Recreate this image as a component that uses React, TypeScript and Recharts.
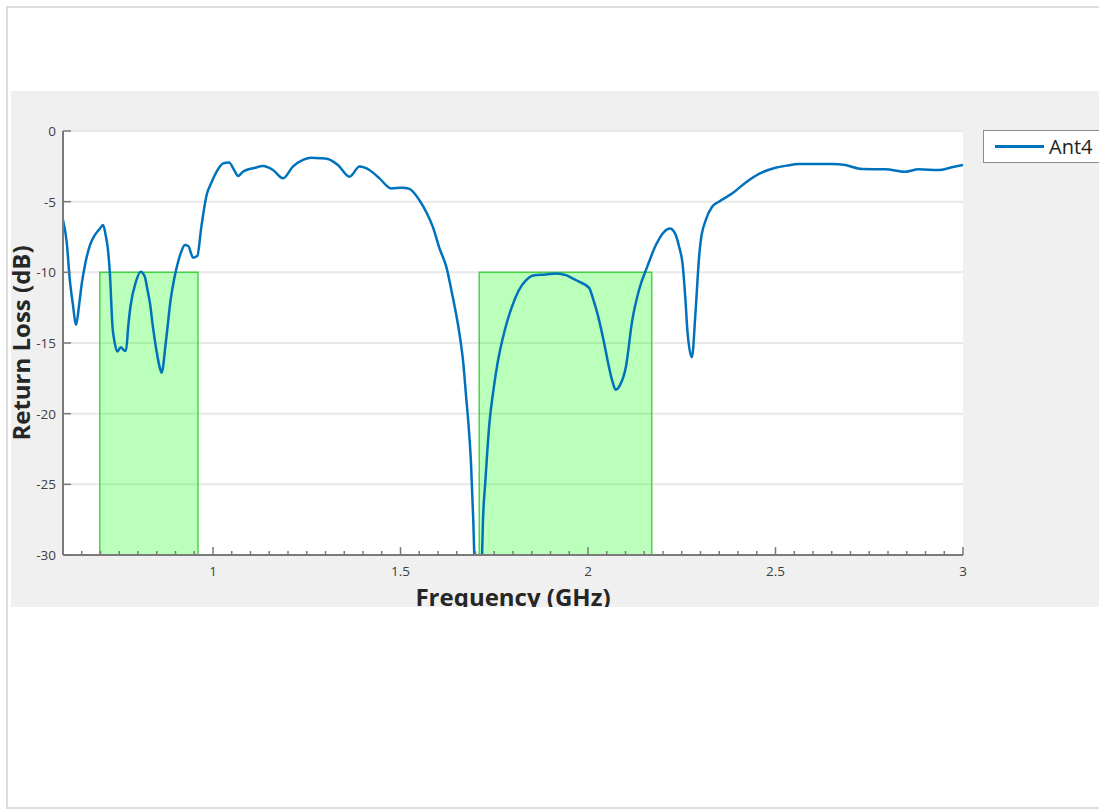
import React from 'react';
import {
  LineChart,
  Line,
  XAxis,
  YAxis,
  CartesianGrid,
  ReferenceArea,
} from 'recharts';

// frequency sweep (GHz) and measured return loss (dB)
const freq = [
  0.6, 0.61, 0.618, 0.626, 0.635, 0.643, 0.65, 0.66, 0.672, 0.685, 0.697, 0.707, 0.714, 0.719,
  0.725, 0.732, 0.738, 0.745, 0.754, 0.762, 0.768, 0.774, 0.78, 0.794, 0.807, 0.818, 0.825,
  0.832, 0.84, 0.849, 0.856, 0.863, 0.874, 0.887, 0.897, 0.907, 0.916, 0.925, 0.934, 0.947,
  0.958, 0.969, 0.983, 0.995, 1.005, 1.016, 1.027, 1.043, 1.055, 1.067, 1.08, 1.089, 1.11,
  1.133, 1.16, 1.187, 1.213, 1.24, 1.262, 1.285, 1.306, 1.333, 1.364, 1.391, 1.417, 1.444,
  1.475, 1.506, 1.524, 1.55, 1.57, 1.586, 1.604, 1.622, 1.639, 1.657, 1.667, 1.675, 1.682,
  1.688, 1.694, 1.699, 1.708, 1.716, 1.72, 1.726, 1.737, 1.748, 1.759, 1.777, 1.799, 1.815,
  1.835, 1.857, 1.888, 1.914, 1.941, 1.96, 1.976, 2.003, 2.015, 2.025, 2.043, 2.052, 2.065,
  2.074, 2.085, 2.101, 2.118, 2.136, 2.158, 2.181, 2.203, 2.218, 2.232, 2.244, 2.252, 2.26,
  2.265, 2.277, 2.287, 2.296, 2.3, 2.314, 2.331, 2.349, 2.385, 2.42, 2.456, 2.5, 2.53, 2.562,
  2.6, 2.651, 2.686, 2.731, 2.793, 2.846, 2.882, 2.935, 2.97, 3.0,
];
const ant4 = [
  -6.3, -7.9, -10.5, -12.2, -13.7, -12.3, -10.8, -9.3, -8.07, -7.36, -6.95, -6.65, -7.4, -8.2,
  -10.05, -13.85, -15.0, -15.6, -15.3, -15.5, -15.55, -13.8, -12.4, -10.7, -9.95, -10.3, -11.2,
  -12.2, -13.9, -15.5, -16.5, -17.1, -15.0, -11.95, -10.4, -9.25, -8.5, -8.07, -8.14, -8.96,
  -8.85, -6.77, -4.53, -3.7, -3.11, -2.6, -2.29, -2.22, -2.7, -3.18, -2.88, -2.76, -2.62,
  -2.48, -2.76, -3.35, -2.52, -2.05, -1.89, -1.92, -1.98, -2.4, -3.23, -2.52, -2.76, -3.35,
  -4.06, -4.01, -4.1, -4.88, -5.8, -6.77, -8.3, -9.6, -11.7, -14.3, -16.3, -18.8, -21.0,
  -23.5, -27.5, -32, -38, -31.5, -27.5, -24.9, -20.7, -18.3, -16.4, -14.2, -12.3, -11.3,
  -10.55, -10.2, -10.15, -10.08, -10.2, -10.45, -10.66, -11.1, -12.0, -12.9, -15.0, -16.2, -17.7,
  -18.3, -18.0, -16.7, -13.4, -11.25, -9.6, -8.07, -7.13, -6.9, -7.24, -8.3, -9.36, -12.0,
  -14.1, -16.0, -12.7, -9.0, -7.9, -6.3, -5.36, -5.0, -4.41, -3.66, -3.04, -2.6, -2.45, -2.34,
  -2.33, -2.34, -2.41, -2.69, -2.71, -2.88, -2.71, -2.76, -2.57, -2.41,
];

// target bands (GHz), shaded below -10 dB
const bandStart = [0.698, 1.71];
const bandEnd = [0.96, 2.17];
const bandLimit = -10;

const yTicks = [-30, -25, -20, -15, -10, -5, 0];
const xMajor = [1, 1.5, 2, 2.5, 3];
const xMinorStep = 0.05;

const data = freq.map((f, i) => ({ f, ant4: ant4[i] }));
const xTicks: number[] = [];
for (let i = 0; i <= 48; i++) xTicks.push(Math.round((0.6 + i * xMinorStep) * 100) / 100);

const axisColor = '#7a7a7a';
const textColor = '#404040';
const font = '"Open Sans", sans-serif';

const XTick = (props: any) => {
  const { x, y, payload } = props;
  const major = xMajor.includes(payload.value);
  return (
    <g>
      <line x1={x} x2={x} y1={y} y2={y - (major ? 8 : 4)} stroke={axisColor} strokeWidth={1.5} />
      {major && (
        <text x={x} y={y + 21} textAnchor="middle" fontSize={13.5} fill={textColor} fontFamily={font}>
          {payload.value}
        </text>
      )}
    </g>
  );
};

const YTick = (props: any) => {
  const { x, y, payload } = props;
  return (
    <g>
      <line x1={x} x2={x + 8} y1={y} y2={y} stroke={axisColor} strokeWidth={1.5} />
      <text x={x - 7} y={y + 5} textAnchor="end" fontSize={13.5} fill={textColor} fontFamily={font}>
        {payload.value}
      </text>
    </g>
  );
};

export default function App() {
  return (
    <div>
      <div
        style={{
          position: 'absolute',
          left: 6,
          top: 6,
          width: 1093,
          height: 803,
          boxSizing: 'border-box',
          border: '2px solid #dcdcdc',
          borderRight: 'none',
          background: '#fff',
        }}
      />
      <div
        style={{
          position: 'absolute',
          left: 11,
          top: 91,
          width: 1088,
          height: 516,
          background: '#f0f0f0',
          overflow: 'hidden',
        }}
      >
        <LineChart
          width={1088}
          height={516}
          data={data}
          margin={{ top: 40, right: 136, bottom: 22, left: 12 }}
        >
          <CartesianGrid
            horizontal
            vertical={false}
            fill="#ffffff"
            stroke="#e8e8e8"
            strokeWidth={2}
          />
          {bandStart.map((s, i) => (
            <ReferenceArea
              key={`band-${i}`}
              x1={s}
              x2={bandEnd[i]}
              y1={-30}
              y2={bandLimit}
              fill="#00ff00"
              fillOpacity={0.27}
              stroke="#33cc33"
              strokeOpacity={0.85}
              strokeWidth={1.5}
            />
          ))}
          <XAxis
            type="number"
            dataKey="f"
            domain={[0.6, 3]}
            ticks={xTicks}
            interval={0}
            tickSize={0}
            tickMargin={0}
            tickLine={false}
            tick={<XTick />}
            height={30}
            axisLine={{ stroke: axisColor, strokeWidth: 2 }}
            allowDataOverflow
            label={() => (
              <text
                x={502}
                y={515}
                textAnchor="middle"
                fontSize={24}
                fontWeight="bold"
                fontFamily={font}
                fill="#262626"
              >
                Frequency (GHz)
              </text>
            )}
          />
          <YAxis
            type="number"
            domain={[-30, 0]}
            ticks={yTicks}
            interval={0}
            tickSize={0}
            tickMargin={0}
            tickLine={false}
            tick={<YTick />}
            width={40}
            axisLine={{ stroke: axisColor, strokeWidth: 2 }}
            allowDataOverflow
            label={() => (
              <text
                x={19}
                y={252}
                transform="rotate(-90 19 252)"
                textAnchor="middle"
                fontSize={24}
                fontWeight="bold"
                fontFamily={font}
                fill="#262626"
              >
                Return Loss (dB)
              </text>
            )}
          />
          <Line
            type="monotone"
            dataKey="ant4"
            name="Ant4"
            stroke="#0072bd"
            strokeWidth={2.5}
            dot={false}
            activeDot={false}
            isAnimationActive={false}
          />
        </LineChart>
        <div
          style={{
            position: 'absolute',
            left: 972,
            top: 39,
            width: 130,
            height: 31,
            background: '#fff',
            border: '1px solid #8c8c8c',
            display: 'flex',
            alignItems: 'center',
            fontFamily: font,
            fontSize: 20,
            color: '#222',
          }}
        >
          <div style={{ width: 49, height: 2.5, background: '#0072bd', marginLeft: 11, marginRight: 5 }} />
          <span>Ant4</span>
        </div>
      </div>
    </div>
  );
}
